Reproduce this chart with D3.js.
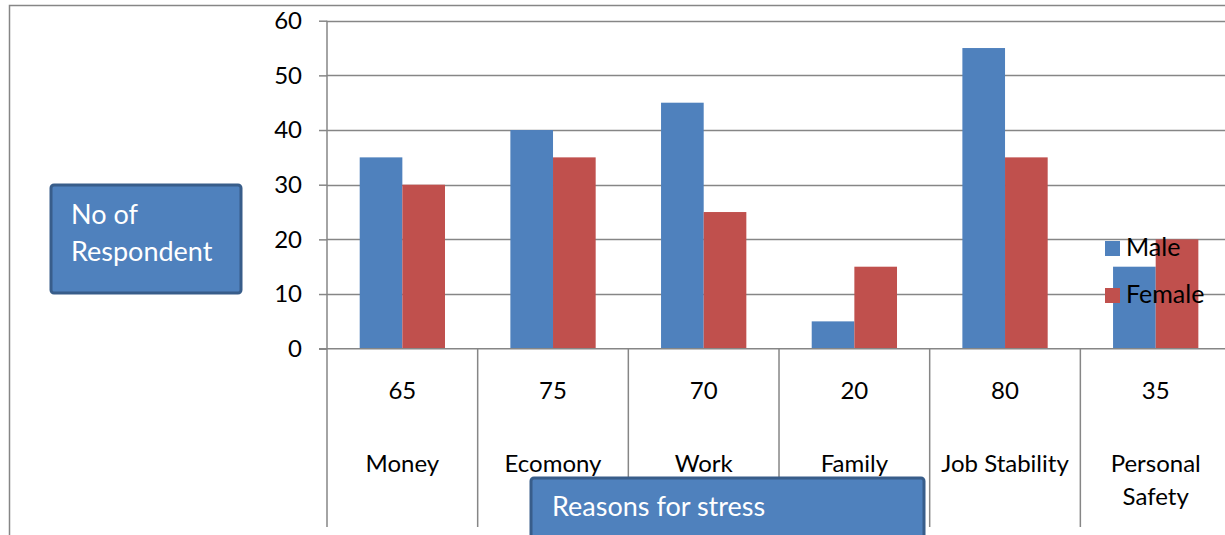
<!DOCTYPE html>
<html><head><meta charset="utf-8">
<script src="https://cdn.jsdelivr.net/npm/d3@7"></script>
<style>html,body{margin:0;padding:0;background:#fff;overflow:hidden}svg{display:block}</style>
</head><body>
<svg id="c" width="1225" height="535"></svg>
<script>
const categories = ["Money","Ecomony","Work","Family","Job Stability","Personal Safety"];
const totals = [65,75,70,20,80,35];
const series = ["Male","Female"];
const maleValues = [35,40,45,5,55,15];
const femaleValues = [30,35,25,15,35,20];
const yTicks = [0,10,20,30,40,50,60];
const colors = {Male:"#4F81BD", Female:"#C0504D"};

const svg = d3.select("#c");
const font = "Lato, 'Carlito', 'Open Sans', sans-serif";
const gray = "#868686";

// outer chart border
svg.append("path").attr("d","M9.5,535V5.5H1225").attr("fill","none").attr("stroke",gray).attr("stroke-width",1.5);

const x0 = 327, catW = 150.67;
const x = d3.scaleBand().domain(categories).range([x0, x0 + catW*categories.length]).padding(0);
const x1 = d3.scaleBand().domain(series).range([32.7, 118]).padding(0);
const y = d3.scaleLinear().domain([0,60]).range([348.7, 20.7]);

// gridlines
svg.append("g").selectAll("line").data(yTicks.filter(d=>d>0)).join("line")
  .attr("x1", x0).attr("x2", 1225).attr("y1", d=>Math.round(y(d))+0.5).attr("y2", d=>Math.round(y(d))+0.5)
  .attr("stroke", gray).attr("stroke-width", 1.5);

// y axis
const yAxis = d3.axisLeft(y).tickValues(yTicks).tickSize(8).tickPadding(17);
const gy = svg.append("g").attr("transform", `translate(${x0},0)`).call(yAxis);
gy.select(".domain").remove();
gy.selectAll(".tick line").attr("stroke", gray).attr("stroke-width",1.5);
gy.selectAll(".tick text").attr("font-family", font).attr("font-size", 24).attr("fill","#000");
svg.append("line").attr("x1",x0).attr("x2",x0).attr("y1",y(60)).attr("y2",527).attr("stroke",gray).attr("stroke-width",1.5);

// bars
const rows = categories.map((c,i)=>({cat:c, Male:maleValues[i], Female:femaleValues[i]}));
svg.append("g").selectAll("g").data(rows).join("g")
  .attr("transform", d=>`translate(${x(d.cat)},0)`)
  .selectAll("rect").data(d=>series.map(s=>({s, v:d[s]}))).join("rect")
  .attr("x", d=>x1(d.s)).attr("width", x1.bandwidth())
  .attr("y", d=>y(d.v)).attr("height", d=>y(0)-y(d.v))
  .attr("fill", d=>colors[d.s]);

// x baseline
svg.append("line").attr("x1",319).attr("x2",1225).attr("y1",y(0)).attr("y2",y(0)).attr("stroke",gray).attr("stroke-width",1.5);

// category dividers
svg.append("g").selectAll("line").data(categories.slice(1).concat(["__end"])).join("line")
  .attr("x1", (d,i)=>x0+catW*(i+1)).attr("x2",(d,i)=>x0+catW*(i+1))
  .attr("y1", y(0)).attr("y2", 527).attr("stroke", gray).attr("stroke-width",1.5);

// totals row
svg.append("g").selectAll("text").data(categories).join("text")
  .attr("x", d=>x(d)+x.bandwidth()/2).attr("y", 399)
  .attr("text-anchor","middle").attr("font-family",font).attr("font-size",24).attr("fill","#000")
  .text((d,i)=>totals[i]);

// category names (wrap Personal Safety)
const catText = svg.append("g").selectAll("text").data(categories).join("text")
  .attr("x", d=>x(d)+x.bandwidth()/2).attr("y", 472)
  .attr("text-anchor","middle").attr("font-family",font).attr("font-size",24).attr("fill","#000");
catText.each(function(d){
  const t = d3.select(this);
  const lines = d==="Personal Safety" ? ["Personal","Safety"] : [d];
  lines.forEach((l,i)=>t.append("tspan").attr("x", x(d)+x.bandwidth()/2).attr("dy", i===0?0:33).text(l));
});

// legend
const lg = svg.append("g");
series.forEach((s,i)=>{
  lg.append("rect").attr("x",1105).attr("y",241+i*47).attr("width",15).attr("height",15).attr("fill",colors[s]);
  lg.append("text").attr("x",1126).attr("y",256+i*47).attr("font-family",font).attr("font-size",25).attr("fill","#000").text(s);
});

// y title box
svg.append("rect").attr("x",51).attr("y",185).attr("width",190).attr("height",108).attr("rx",3)
  .attr("fill","#4F81BD").attr("stroke","#385D8A").attr("stroke-width",3);
const yt = svg.append("text").attr("font-family",font).attr("font-size",27).attr("fill","#fff");
yt.append("tspan").attr("x",71).attr("y",224).text("No of");
yt.append("tspan").attr("x",71).attr("y",261).text("Respondent");

// x title box
svg.append("rect").attr("x",531).attr("y",478).attr("width",393).attr("height",70).attr("rx",3)
  .attr("fill","#4F81BD").attr("stroke","#385D8A").attr("stroke-width",3);
svg.append("text").attr("x",552).attr("y",516).attr("font-family",font).attr("font-size",27).attr("fill","#fff").text("Reasons for stress");
</script>
</body></html>
